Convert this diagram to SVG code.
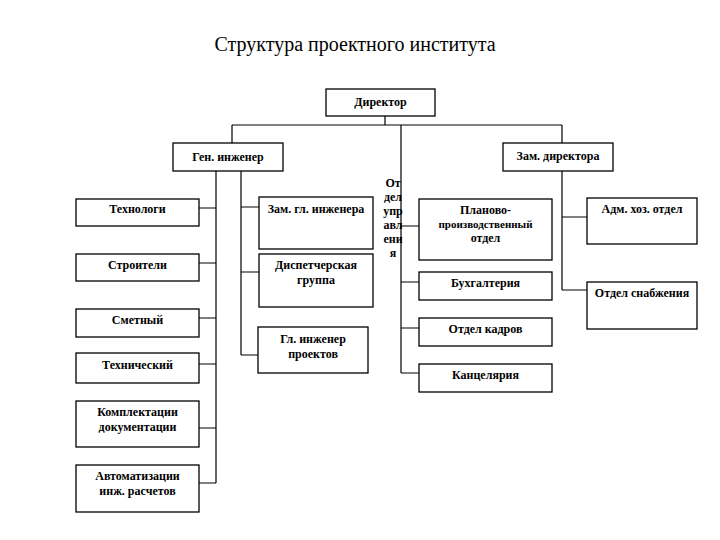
<svg xmlns="http://www.w3.org/2000/svg" width="720" height="540" viewBox="0 0 720 540">
<style>
.b{fill:#fff;stroke:#000;stroke-width:1.3}
.t{font-family:"Liberation Serif","Times New Roman",serif;font-weight:bold;font-size:12px;text-anchor:middle;fill:#000}
.s{font-size:11px}
.c{fill:none;stroke:#000;stroke-width:1.2}
.title{font-family:"Liberation Serif","Times New Roman",serif;font-size:20px;text-anchor:middle;fill:#000}
</style>
<rect width="720" height="540" fill="#fff"/>
<text class="title" x="355" y="51">Структура проектного института</text>
<g id="connectors">
<path class="c" d="M385,116V125M232,125H562M232,125V143M562,125V143M401,125V373"/>
<path class="c" d="M216,171V483M199,208H216M199,263H216M199,318H216M199,364H216M199,428H216M199,483H216"/>
<path class="c" d="M241,171V355M241,207H259M241,272H259M241,355H258"/>
<path class="c" d="M401,226H419M401,282H419M401,328H419M401,373H419"/>
<path class="c" d="M562,171V290M562,217H587M562,290H587"/>
</g>
<g id="director"><rect class="b" x="326" y="89" width="109" height="27"/><text class="t" x="380.5" y="106">Директор</text></g>
<g id="gen"><rect class="b" x="173" y="143" width="110" height="28"/><text class="t" x="228" y="161">Ген. инженер</text></g>
<g id="zamdir"><rect class="b" x="503" y="143" width="110" height="28"/><text class="t" x="558" y="160">Зам. директора</text></g>
<g id="tech"><rect class="b" x="76" y="199" width="123" height="27"/><text class="t" x="137.5" y="213">Технологи</text></g>
<g id="stroit"><rect class="b" x="76" y="254" width="123" height="27"/><text class="t" x="137.5" y="269">Строители</text></g>
<g id="smet"><rect class="b" x="76" y="309" width="123" height="28"/><text class="t" x="137.5" y="324">Сметный</text></g>
<g id="technich"><rect class="b" x="76" y="353" width="123" height="30"/><text class="t" x="137.5" y="369">Технический</text></g>
<g id="kompl"><rect class="b" x="76" y="401" width="123" height="46"/><text class="t" x="137.5" y="416">Комплектации</text><text class="t" x="137.5" y="431">документации</text></g>
<g id="avto"><rect class="b" x="76" y="465" width="123" height="47"/><text class="t" x="137.5" y="480">Автоматизации</text><text class="t" x="137.5" y="495">инж. расчетов</text></g>
<g id="zamgl"><rect class="b" x="259" y="197" width="114" height="52"/><text class="t" x="316" y="213">Зам. гл. инженера</text></g>
<g id="disp"><rect class="b" x="259" y="254" width="114" height="53"/><text class="t" x="316" y="269">Диспетчерская</text><text class="t" x="316" y="284">группа</text></g>
<g id="glinzh"><rect class="b" x="258" y="327" width="110" height="46"/><text class="t" x="313" y="343">Гл. инженер</text><text class="t" x="313" y="358">проектов</text></g>
<g id="otdupr"><text class="t" x="393" y="187">От</text><text class="t" x="393" y="201">дел</text><text class="t" x="393" y="215">упр</text><text class="t" x="393" y="229">авл</text><text class="t" x="393" y="243">ени</text><text class="t" x="393" y="257">я</text></g>
<g id="plan"><rect class="b" x="419" y="199" width="133" height="61"/><text class="t" x="485.5" y="214">Планово-</text><text class="t s" x="485.5" y="228">производственный</text><text class="t" x="485.5" y="242">отдел</text></g>
<g id="buh"><rect class="b" x="419" y="272" width="133" height="28"/><text class="t" x="485.5" y="287">Бухгалтерия</text></g>
<g id="kadr"><rect class="b" x="419" y="318" width="133" height="28"/><text class="t" x="485.5" y="333">Отдел кадров</text></g>
<g id="kanc"><rect class="b" x="419" y="364" width="133" height="28"/><text class="t" x="485.5" y="379">Канцелярия</text></g>
<g id="adm"><rect class="b" x="587" y="198" width="110" height="46"/><text class="t" x="642" y="213">Адм. хоз. отдел</text></g>
<g id="snab"><rect class="b" x="587" y="282" width="110" height="47"/><text class="t" x="642" y="297">Отдел снабжения</text></g>
</svg>
